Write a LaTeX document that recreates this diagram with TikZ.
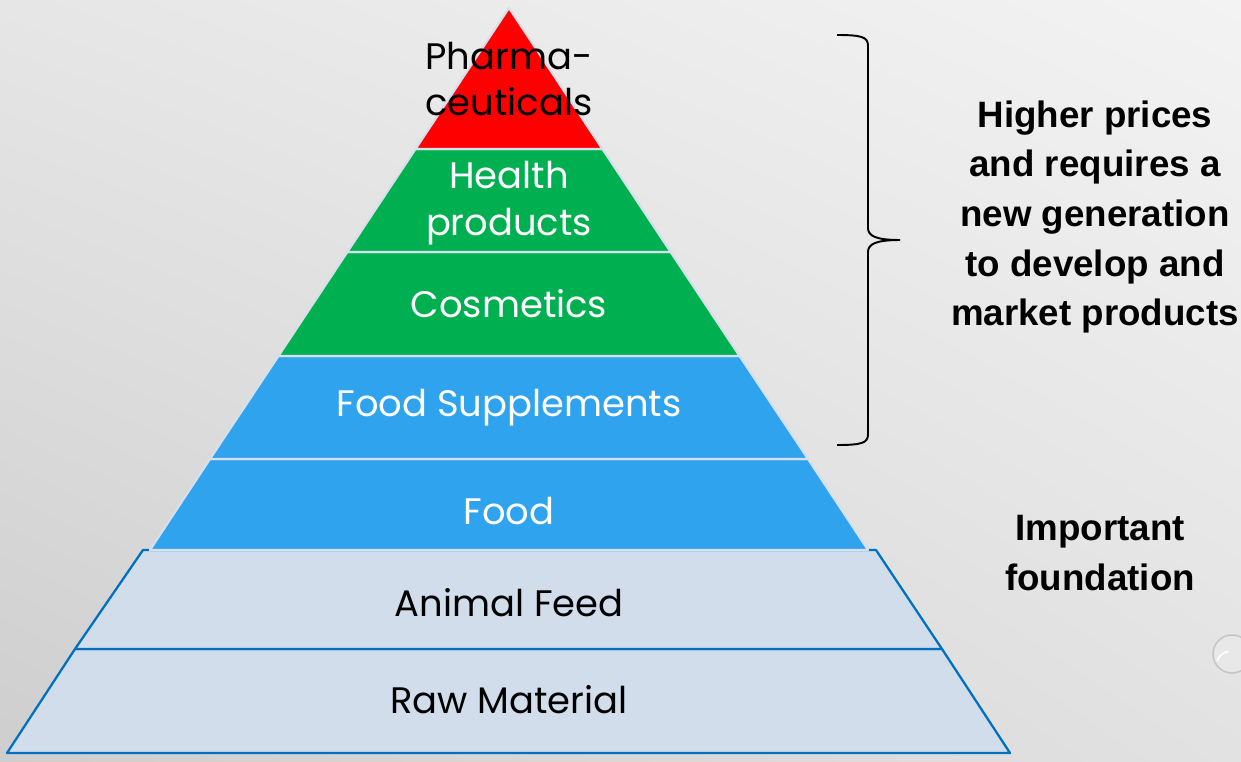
\documentclass[tikz,border=0pt]{standalone}
\usepackage{fontspec}
\usetikzlibrary{shadings}
\setmainfont{Poppins}
\newfontfamily\sidefont{Liberation Sans}
\definecolor{pred}{RGB}{255,0,0}
\definecolor{pgreen}{RGB}{0,176,80}
\definecolor{pblue}{RGB}{48,163,238}
\definecolor{plight}{RGB}{209,221,235}
\definecolor{pedge}{RGB}{214,224,234}
\definecolor{pdark}{RGB}{0,112,192}
\definecolor{bgul}{RGB}{230,230,230}
\definecolor{bgur}{RGB}{243,243,243}
\definecolor{bgll}{RGB}{206,206,206}
\definecolor{bglr}{RGB}{226,226,226}
\begin{document}
\begin{tikzpicture}[x=0.02cm,y=-0.02cm,
  upper/.style={draw=pedge,line width=1.2pt,line join=round},
  lower/.style={draw=pdark,fill=plight,line width=1.3pt,line join=round},
  lbl/.style={font=\fontsize{21}{26.5}\selectfont,align=center,inner sep=0pt},
  side/.style={font=\sidefont\bfseries\fontsize{20.9}{28.2}\selectfont,align=center,inner sep=0pt}]
\useasboundingbox (0,0) rectangle (1241,761);
\shade[upper left=bgul,upper right=bgur,lower left=bgll,lower right=bglr]
  (0,0) rectangle (1241,761);
% droplet
\begin{scope}
\clip (0,0) rectangle (1241,761);
\draw[gray!45,fill=gray!15,fill opacity=0.5,line width=0.9pt] (1232,654) circle (19);
\draw[white,line width=0.9pt] (1217,661) arc (200:260:15);
\end{scope}
% lower layers
\path[lower] (75,649) -- (942,649) -- (1010,753) -- (7,753) -- cycle;
\path[lower] (143,550) -- (876,550) -- (942,649) -- (75,649) -- cycle;
% upper layers
\path[upper,fill=pblue] (210,459) -- (808,459) -- (868,550) -- (150,550) -- cycle;
\path[upper,fill=pblue] (278.5,356) -- (739.5,356) -- (808,459) -- (210,459) -- cycle;
\path[upper,fill=pgreen] (347.4,252) -- (670.6,252) -- (739.5,356) -- (278.5,356) -- cycle;
\path[upper,fill=pgreen] (415.6,149) -- (602.4,149) -- (670.6,252) -- (347.4,252) -- cycle;
\path[upper,fill=pred] (509,8) -- (602.4,149) -- (415.6,149) -- cycle;
% labels
\node[lbl,text=black] (pharma) at (509,79) {Pharma-\\ceuticals};
\node[lbl,text=white] (health) at (509,203) {Health\\products};
\node[lbl,text=white] (cosm) at (509,304) {Cosmetics};
\node[lbl,text=white] (supp) at (509,408) {Food Supplements};
\node[lbl,text=white] (food) at (509,511) {Food};
\node[lbl,text=black] (feed) at (509,603) {Animal Feed};
\node[lbl,text=black] (raw) at (509,700) {Raw Material};
% brace
\coordinate (btop) at (837,35);
\coordinate (btip) at (900,240);
\coordinate (bbot) at (837,445);
\draw[black,line width=1.1pt] (btop) .. controls (862,35) and (868,37) .. (868,46) -- (868,228)
  .. controls (868,236) and (876,240) .. (btip)
  .. controls (876,240) and (868,244) .. (868,252) -- (868,434)
  .. controls (868,443) and (862,445) .. (bbot);
\node[side] (higher) at (1095,217) {Higher prices\\and requires a\\new generation\\to develop and\\market products};
\node[side] (found) at (1100,553) {Important\\foundation};
\end{tikzpicture}
\end{document}
